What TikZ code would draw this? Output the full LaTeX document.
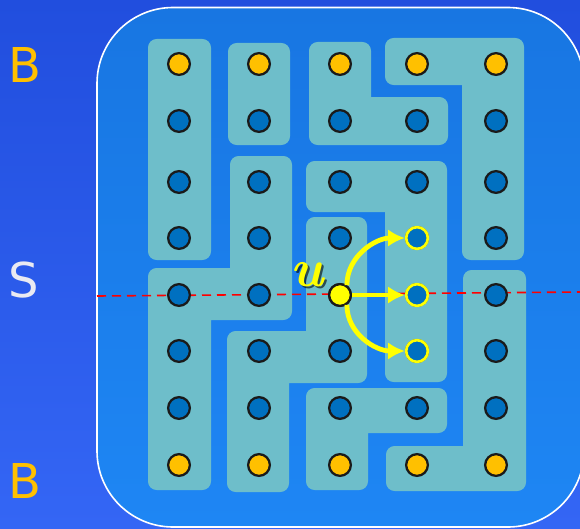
\documentclass[tikz,border=0pt]{standalone}
\usepackage{fontspec}
\setsansfont{DejaVu Sans}
\usetikzlibrary{arrows.meta}
\definecolor{bgtop}{HTML}{214EDE}
\definecolor{bgbot}{HTML}{3466F5}
\definecolor{intop}{HTML}{1876E2}
\definecolor{inbot}{HTML}{1E86F4}
\definecolor{tile}{HTML}{6EBECA}
\definecolor{inr}{HTML}{0070C0}
\definecolor{bnd}{HTML}{FFC000}
\definecolor{rim}{HTML}{1A1A1A}
\definecolor{uyel}{HTML}{FFFF00}
\definecolor{sgrey}{HTML}{EAEAF2}

\begin{document}
\begin{tikzpicture}[x=0.75pt,y=-0.75pt,>=Latex,
  piece/.style={fill=tile,rounded corners=6.5},
  dot/.style={circle,draw=rim,line width=1.7pt,minimum size=16.3pt,inner sep=0pt},
  target/.style={dot,draw=uyel,fill=inr},
  hop/.style={draw=uyel,line width=3.6pt,-{Latex[length=12.5pt,width=13pt]}},
  cut/.style={red,line width=1.2pt,dash pattern=on 6.75pt off 4.5pt},
  side/.style={font=\sffamily\fontsize{36}{36}\selectfont},
  ulabel/.style={font=\bfseries\itshape\fontsize{40}{40}\selectfont,inner sep=0pt}]
  % Canvas (pixel grid, y downwards)
  \useasboundingbox (0,0) rectangle (580,528);
  \clip (0,0) rectangle (580,528);
  \shade[top color=bgtop,bottom color=bgbot] (0,0) rectangle (580,528);
  \shade[top color=intop,bottom color=inbot,rounded corners=57] (97,7.5) rectangle (584,527);
  \draw[white,line width=1.2pt,rounded corners=57] (97,7.5) rectangle (584,527);
  % Tiles: each piece is a union of rounded rectangles
  \fill[piece] (148,39) rectangle (211,260);
  \fill[piece] (228,43) rectangle (290,145);
  \fill[piece] (309,42) rectangle (371,145) (309,97) rectangle (448,145);
  \fill[piece] (385,38) rectangle (524,85) (462,38) rectangle (524,260);
  \fill[piece] (230,156) rectangle (292,320) (148,268) rectangle (292,320) (148,268) rectangle (211,490);
  \fill[piece] (306,217) rectangle (367,383) (227,331) rectangle (367,383) (227,331) rectangle (289,492);
  \fill[piece] (306,161) rectangle (447,212) (385,161) rectangle (447,382);
  \fill[piece] (306,388) rectangle (447,433) (306,388) rectangle (368,490);
  \fill[piece] (463,270) rectangle (526,491) (386,446) rectangle (526,491);
  % Separator
  \coordinate (cutL) at (97,296);
  \coordinate (cutR) at (580,292);
  \draw[cut] (cutL) -- (cutR);
  % Vertices: boundary rows orange, the rest blue
  \foreach \x [count=\c] in {179,259,340,417,496}
    \foreach \y [count=\r] in {64,121,182,238,295,351,408,465}{
      \ifnum\r=1 \def\tone{bnd}\else\ifnum\r=8 \def\tone{bnd}\else\def\tone{inr}\fi\fi
      \node[dot,fill=\tone] (d\c\r) at (\x,\y) {};
    }
  % Vertex u and its neighbours
  \node[dot,fill=uyel] (u) at (d35) {};
  \node[target,line width=2pt] (t4) at (d44) {};
  \node[target,line width=2pt] (t5) at (d45) {};
  \node[target,line width=2pt] (t6) at (d46) {};
  \draw[hop] (u.55) to[out=90,in=180] (t4.west);
  \draw[hop] (u.east) -- (t5.west);
  \draw[hop] (u.-55) to[out=-90,in=180] (t6.west);
  \node[ulabel,text=black,opacity=.6] (ushadow) at (309,277) {u};
  \node[ulabel,text=uyel] (ulab) at (307,275) {u};
  % Side labels
  \node[side,text=bnd] (btop) at (25,65) {B};
  \node[side,text=sgrey] (smid) at (24,280) {S};
  \node[side,text=bnd] (bbot) at (25,481) {B};
\end{tikzpicture}
\end{document}
